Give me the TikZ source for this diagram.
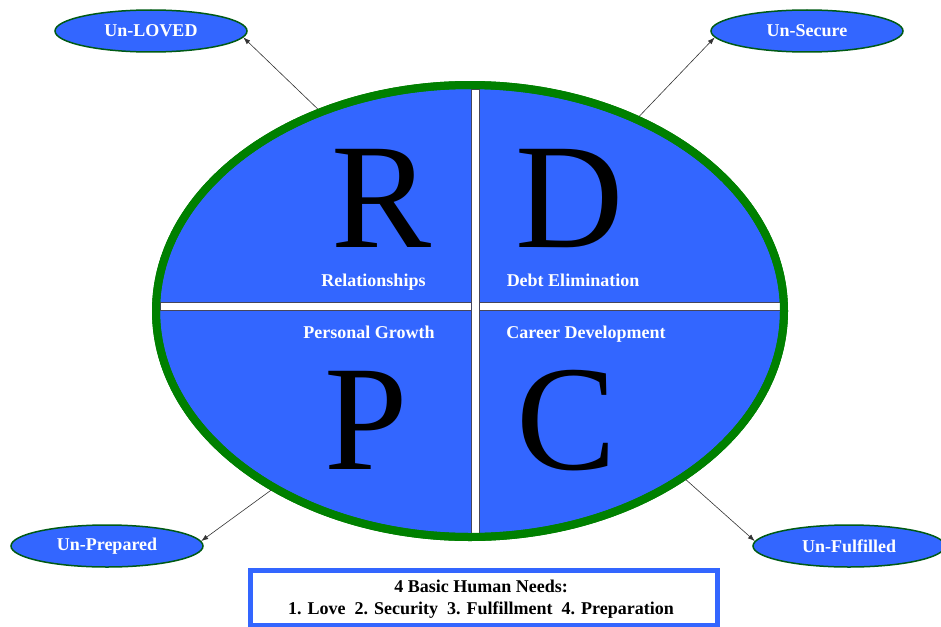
\documentclass[tikz,border=0pt]{standalone}
\usepackage{fontspec}
\setmainfont{Liberation Serif}
\usetikzlibrary{shapes.geometric,arrows.meta}
\definecolor{fillblue}{RGB}{51,102,255}
\definecolor{rimgreen}{RGB}{0,128,0}
\definecolor{darkrim}{RGB}{0,90,20}
\definecolor{bargray}{RGB}{70,70,90}
\tikzset{
  big/.style={ellipse, draw=rimgreen, line width=8pt, fill=fillblue, minimum width=628pt, minimum height=452pt, inner sep=0pt},
  small/.style={ellipse, draw=darkrim, line width=1.5pt, fill=fillblue, minimum width=192pt, minimum height=42pt, inner sep=0pt, text=white, font=\fontsize{18}{18}\selectfont\bfseries},
  letter/.style={anchor=base, inner sep=0pt, text height=100pt, text depth=0pt, font=\fontsize{150}{150}\selectfont},
  label/.style={anchor=base, inner sep=0pt, text=white, font=\fontsize{18}{18}\selectfont\bfseries},
  bar/.style={fill=white, draw=bargray, line width=0.8pt},
  link/.style={draw=black!80, line width=0.6pt, -{Latex[length=7pt,width=5pt]}},
  needsbox/.style={draw=fillblue, line width=5pt, fill=white}
}
\begin{document}
\begin{tikzpicture}[x=1pt,y=-1pt]
\useasboundingbox (0,0) rectangle (941,626);
% main ellipse
\node[big] (big) at (470,311) {};
% cross bars
\draw[bar] (160,302) rectangle (780,310);
\draw[bar] (471,89) rectangle (479,533);
% redraw rim on top of bar ends
\draw[rimgreen, line width=8pt] (470,311) ellipse [x radius=314, y radius=226];
% letters
\node[letter] (R) at (382,247) {R};
\node[letter] (D) at (570,247) {D};
\node[letter] (P) at (366,469) {P};
\node[letter] (C) at (567,469) {C};
% labels
\node[label] (rel) at (373.5,286) {Relationships};
\node[label] (debt) at (573,286) {Debt Elimination};
\node[label] (pers) at (369,338.5) {Personal Growth};
\node[label] (car) at (586,338.5) {Career Development};
% outer ellipses
\node[small] (unloved) at (151,31) {Un-LOVED};
\node[small] (unsecure) at (807,31) {Un-Secure};
\node[small] (unprep) at (107,546) {Un-Prepared};
\node[small] (unfulf) at (849,546) {Un-Fulfilled};
% arrows
\draw[link] (big.127) -- (unloved.-4);
\draw[link] (big.49) -- (unsecure.184);
\draw[link] (big.222) -- (unprep.3);
\draw[link] (big.-38) -- (unfulf.177);
% needs box
\draw[needsbox] (250.5,570.5) rectangle (717.5,625);
\node[align=center, inner sep=0pt, font=\fontsize{18}{22}\selectfont\bfseries] (needs) at (481,599) {4 Basic Human Needs:\\1. Love~~2. Security~~3. Fulfillment~~4. Preparation};
\end{tikzpicture}
\end{document}
